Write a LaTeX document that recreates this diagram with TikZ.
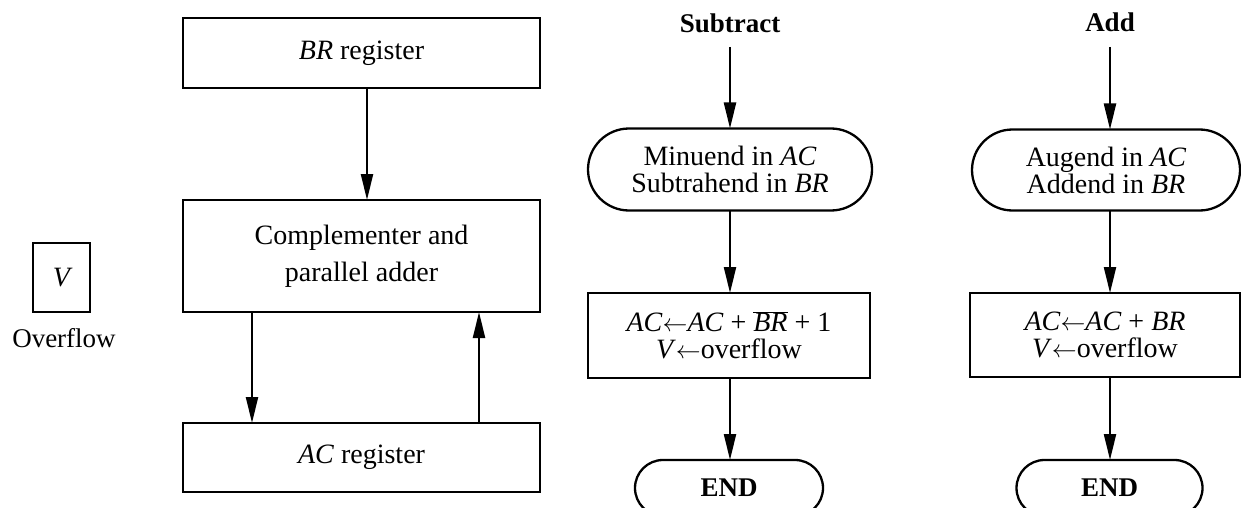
\documentclass[tikz,border=0pt]{standalone}
\usepackage{fontspec}
\setmainfont{Liberation Serif}
\usetikzlibrary{arrows.meta,shapes.misc}
\begin{document}
\begin{tikzpicture}[x=1pt,y=-1pt,
  every node/.style={inner sep=0pt,outer sep=0pt},
  regbox/.style={draw,line width=2.5pt,minimum width=357pt,align=center,
    font=\fontsize{28}{37}\selectfont},
  flowbox/.style={draw,line width=2.3pt,align=center,
    font=\fontsize{28}{27}\selectfont},
  term/.style={flowbox,rounded rectangle,rounded rectangle arc length=180},
  lbl/.style={font=\fontsize{27}{27}\selectfont\bfseries},
  flow/.style={line width=2.2pt,-{Triangle[length=26pt,width=12pt]}}]
\useasboundingbox (0,0) rectangle (1241,508);

% overflow flag
\node[draw,line width=2.5pt,minimum width=57pt,minimum height=69pt,
  font=\fontsize{28}{28}\selectfont\itshape] (v) at (61.5,277.5) {V};
\node[font=\fontsize{27}{27}\selectfont,anchor=base] (ovf) at (64,347) {Overflow};

% hardware registers
\node[regbox,minimum height=70pt] (br) at (361.5,53) {\textit{BR} register};
\node[regbox,minimum height=112pt] (comp) at (361.5,256) {Complementer and\\parallel adder};
\node[regbox,minimum height=69pt] (ac) at (361.5,457.5) {\textit{AC} register};

\draw[flow] ([xshift=5.5pt]br.south) -- ([xshift=5.5pt]comp.north);
\draw[flow] ([xshift=-109.5pt]comp.south) -- ([xshift=-109.5pt]ac.north);
\draw[flow] ([xshift=117.5pt]ac.north) -- ([xshift=117.5pt]comp.south);

% subtract flowchart
\node[lbl] (sub) at (730,23) {Subtract};
\coordinate (subin) at (730,47);
\node[term,minimum width=284pt,minimum height=82pt] (s1) at (730,169.5)
  {Minuend in \textit{AC}\\Subtrahend in \textit{BR}};
\node[flowbox,minimum width=282pt,minimum height=85pt] (s2) at (729,335.5)
  {\textit{AC}$\leftarrow$\textit{AC} + $\overline{\mbox{\textit{BR}}}$ + 1\\\textit{V}$\leftarrow$overflow};
\node[term,minimum width=188pt,minimum height=56pt,font=\fontsize{27}{27}\selectfont\bfseries] (s3) at (729,488) {END};
\draw[flow] (subin) -- (subin |- s1.north);
\draw[flow] (subin |- s1.south) -- (subin |- s2.north);
\draw[flow] (subin |- s2.south) -- (subin |- s3.north);

% add flowchart
\node[lbl] (add) at (1110,22) {Add};
\coordinate (addin) at (1110,47);
\node[term,minimum width=268pt,minimum height=81pt] (a1) at (1106,170)
  {Augend in \textit{AC}\\Addend in \textit{BR}};
\node[flowbox,minimum width=270pt,minimum height=84pt] (a2) at (1105,335)
  {\textit{AC}$\leftarrow$\textit{AC} + \textit{BR}\\\textit{V}$\leftarrow$overflow};
\node[term,minimum width=186pt,minimum height=56pt,font=\fontsize{27}{27}\selectfont\bfseries] (a3) at (1109.5,488) {END};
\draw[flow] (addin) -- (addin |- a1.north);
\draw[flow] (addin |- a1.south) -- (addin |- a2.north);
\draw[flow] (addin |- a2.south) -- (addin |- a3.north);
\end{tikzpicture}
\end{document}
